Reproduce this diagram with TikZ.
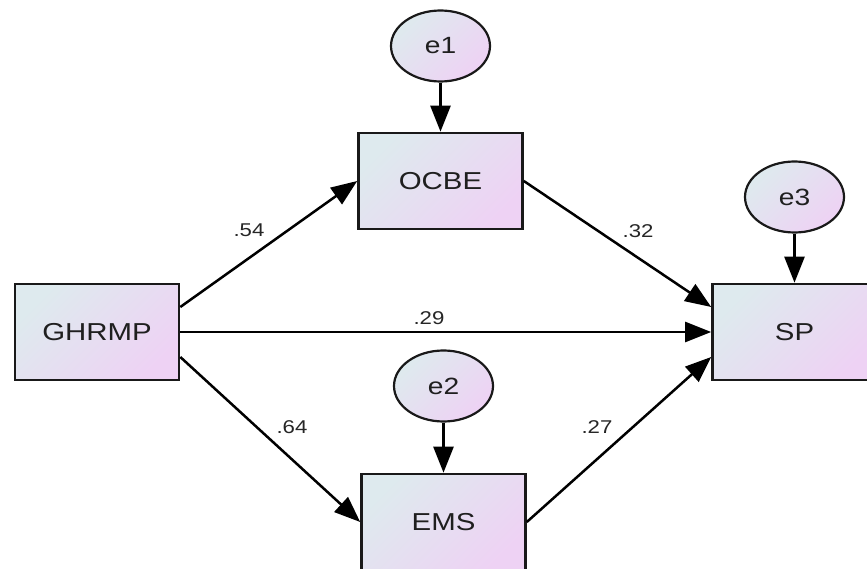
\documentclass[tikz,border=0pt]{standalone}
\usepackage{fontspec}
\setmainfont{Liberation Sans}
\newfontfamily\labfont[FakeStretch=1.2]{Liberation Sans}
\usetikzlibrary{arrows.meta,shapes.geometric}
\definecolor{fillA}{RGB}{222,234,238}
\definecolor{fillB}{RGB}{238,210,244}
\definecolor{edgegray}{RGB}{25,25,25}
\tikzset{
  shadefill/.style={top color=fillA, bottom color=fillB, shading angle=45},
  obsbox/.style={draw=edgegray, line width=2.6pt, shadefill, rectangle,
    minimum width=164pt, minimum height=96pt, inner sep=0pt,
    font=\labfont\fontsize{24.5}{28}\selectfont, text=black!88},
  errnode/.style={draw=edgegray, line width=2.2pt, shadefill, ellipse,
    minimum width=99pt, minimum height=71pt, inner sep=0pt,
    font=\labfont\fontsize{23.5}{27}\selectfont, text=black!88},
  arr/.style={line width=2.5pt, black, -{Triangle[length=26pt,width=20pt]}},
  coef/.style={font=\labfont\fontsize{18.5}{21}\selectfont, text=black!85, inner sep=0pt}
}
\begin{document}
\begin{tikzpicture}[x=1pt,y=-1pt]
\clip (0,0) rectangle (867,569);
\fill[white] (0,0) rectangle (867,569);
\node[obsbox] (g) at (97,332) {GHRMP};
\node[obsbox] (o) at (440.5,181) {OCBE};
\node[obsbox] (m) at (443.5,522) {EMS};
\node[obsbox] (s) at (794.5,332) {SP};
\node[errnode] (e1) at (440.5,46) {e1};
\node[errnode] (e2) at (443.5,386) {e2};
\node[errnode] (e3) at (794.5,197) {e3};
\draw[arr] (e1) -- (o);
\draw[arr] (e2) -- (m);
\draw[arr] (e3) -- (s);
\draw[arr] ([yshift=25pt]g.east) -- (o.west);
\draw[arr] (g.east) -- (s.west);
\draw[arr] ([yshift=-25pt]g.east) -- (m.west);
\draw[arr] (o.east) -- ([yshift=25pt]s.west);
\draw[arr] (m.east) -- ([yshift=-25pt]s.west);
\node[coef] (c54) at (249,230) {.54};
\node[coef] (c32) at (638,231) {.32};
\node[coef] (c29) at (429,318) {.29};
\node[coef] (c64) at (292,427) {.64};
\node[coef] (c27) at (597,427) {.27};
\end{tikzpicture}
\end{document}
